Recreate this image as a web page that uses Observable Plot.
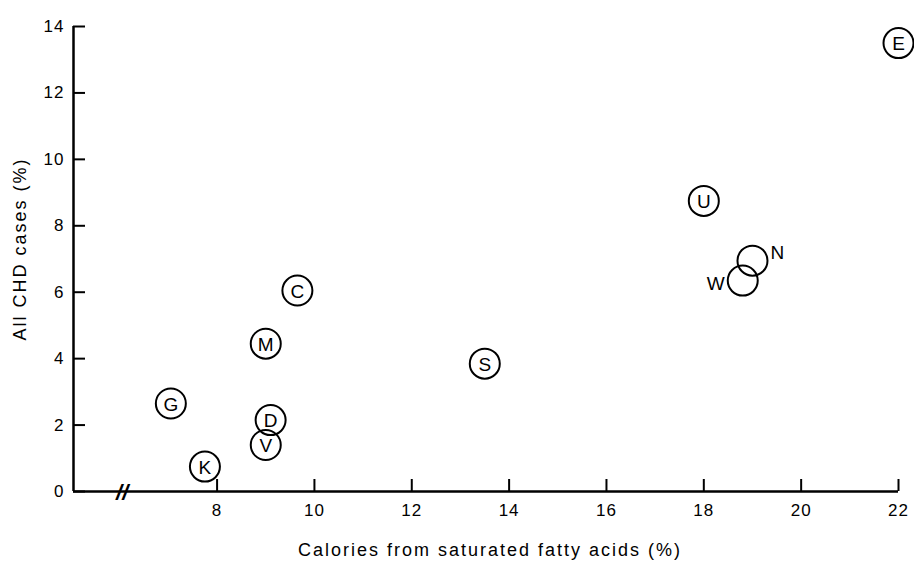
<!DOCTYPE html>
<html>
<head>
<meta charset="utf-8">
<script src="https://cdn.jsdelivr.net/npm/d3@7"></script>
<script src="https://cdn.jsdelivr.net/npm/@observablehq/plot@0.6"></script>
<style>
  html, body { margin: 0; padding: 0; background: #fff; }
  #chart { width: 914px; height: 567px; }
  svg { font-family: "Liberation Sans", Arial, Helvetica, sans-serif; }
</style>
</head>
<body>
<div id="chart"></div>
<script>
// Countries (letter codes) with saturated-fat calories (%) and CHD cases (%)
const countries = ["E", "U", "N", "W", "C", "M", "S", "G", "D", "V", "K"];
const satFat    = [22.0, 18.0, 19.0, 18.8, 9.65, 9.0, 13.5, 7.05, 9.1, 9.0, 7.75];
const chdCases  = [13.5, 8.75, 6.95, 6.35, 6.05, 4.45, 3.85, 2.65, 2.15, 1.4, 0.75];

const xTicks = [8, 10, 12, 14, 16, 18, 20, 22];
const yTicks = [0, 2, 4, 6, 8, 10, 12, 14];
const xTitle = "Calories from saturated fatty acids (%)";
const yTitle = "All CHD cases (%)";
const xStart = 5.05;   // broken axis start
const breakAt = 6.05;  // position of the "//" break mark

const outsideLabels = {W: "left", N: "right"};

const data = countries.map((c, i) => ({c, x: satFat[i], y: chdCases[i]}));
const inside = data.filter(d => !outsideLabels[d.c]);
const leftLab = data.filter(d => outsideLabels[d.c] === "left");
const rightLab = data.filter(d => outsideLabels[d.c] === "right");

const font = "Liberation Sans, Arial, Helvetica, sans-serif";

const chart = Plot.plot({
  width: 914,
  height: 567,
  marginLeft: 73,
  marginRight: 16,
  marginTop: 26,
  marginBottom: 76,
  style: {fontFamily: font, background: "#fff", color: "#000"},
  x: {domain: [xStart, 22]},
  y: {domain: [0, 14]},
  marks: [
    Plot.axisX({ticks: xTicks, tickSize: 0, tickPadding: 12, fontSize: 17, label: null}),
    Plot.axisY({ticks: yTicks, tickSize: 0, tickPadding: 9, fontSize: 17, label: null}),
    Plot.ruleY([0], {stroke: "#000", strokeWidth: 2.5}),
    Plot.ruleX([xStart], {stroke: "#000", strokeWidth: 2.5}),
    Plot.ruleX(xTicks, {x: d => d, y1: 0, y2: 0, insetTop: -12, stroke: "#000", strokeWidth: 2}),
    Plot.ruleY(yTicks, {y: d => d, x1: xStart, x2: xStart, insetRight: -12, stroke: "#000", strokeWidth: 2}),
    Plot.text(["//"], {x: breakAt, y: 0, text: d => d, fontSize: 22, fontWeight: "bold", fontStyle: "italic", fill: "#000", dy: 1}),
    Plot.dot(data, {x: "x", y: "y", r: 15, stroke: "#000", strokeWidth: 2, fill: "none"}),
    Plot.text(inside, {x: "x", y: "y", text: "c", fontSize: 19, fill: "#000", dy: 1}),
    Plot.text(leftLab, {x: "x", y: "y", text: "c", fontSize: 19, fill: "#000", textAnchor: "end", dx: -18, dy: 3}),
    Plot.text(rightLab, {x: "x", y: "y", text: "c", fontSize: 19, fill: "#000", textAnchor: "start", dx: 18, dy: -8}),
    Plot.text([yTitle], {frameAnchor: "left", textAnchor: "middle", text: d => d, rotate: -90, dx: -53, dy: -10, fontSize: 18, fill: "#000"}),
    Plot.text([xTitle], {frameAnchor: "bottom", textAnchor: "middle", text: d => d, dy: 64, dx: 4, fontSize: 18, fill: "#000"})
  ]
});
document.getElementById("chart").appendChild(chart);

// wider letter spacing, as in the typeset original
const svg = d3.select(chart);
svg.selectAll("text").filter(function () {
  const t = this.textContent;
  return t === xTitle || t === yTitle;
}).style("letter-spacing", "2px");
svg.selectAll("[aria-label$='tick label'] text").style("letter-spacing", "1px");
</script>
</body>
</html>
